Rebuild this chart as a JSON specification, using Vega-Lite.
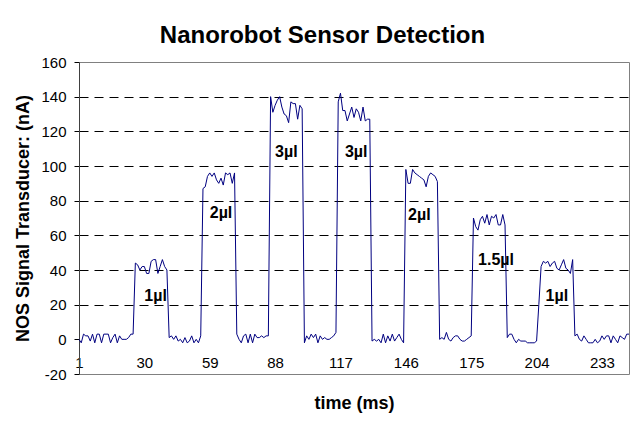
{
 "$schema": "https://vega.github.io/schema/vega-lite/v6.json",
 "width": 550,
 "height": 312,
 "autosize": {"type": "none"},
 "padding": {"left": 79, "top": 62, "right": 5, "bottom": 47},
 "background": "white",
 "title": {"text": "Nanorobot Sensor Detection", "font": "Liberation Sans", "fontSize": 24, "fontWeight": "bold", "color": "black", "frame": "bounds", "anchor": "middle", "offset": 7},
 "config": {"view": {"stroke": "#808080", "strokeWidth": 1}, "font": "Liberation Sans"},
 "datasets": {
  "signal": [
   {"t":1,"v":0},{"t":2,"v":-2},{"t":3,"v":3},{"t":4,"v":2},{"t":5,"v":2},{"t":6,"v":-1},{"t":7,"v":3},{"t":8,"v":-2},{"t":9,"v":3},{"t":10,"v":3},
   {"t":11,"v":-2},{"t":12,"v":3},{"t":13,"v":3},{"t":14,"v":3},{"t":15,"v":-2},{"t":16,"v":1},{"t":17,"v":3},{"t":18,"v":-2},{"t":19,"v":2},{"t":20,"v":0},
   {"t":21,"v":0},{"t":22,"v":0},{"t":23,"v":1},{"t":24,"v":3},{"t":25,"v":3},
   {"t":26,"v":44},{"t":27,"v":43},{"t":28,"v":40},{"t":29,"v":42},{"t":30,"v":42},{"t":31,"v":38},{"t":32,"v":38},{"t":33,"v":45},{"t":34,"v":46},{"t":35,"v":46},
   {"t":36,"v":38},{"t":37,"v":42},{"t":38,"v":46},{"t":39,"v":42},{"t":40,"v":40},
   {"t":41,"v":1},{"t":42,"v":2},{"t":43,"v":0},{"t":44,"v":2},{"t":45,"v":-1},{"t":46,"v":0},{"t":47,"v":-2},{"t":48,"v":1},{"t":49,"v":-2},{"t":50,"v":-1},
   {"t":51,"v":2},{"t":52,"v":-2},{"t":53,"v":0},{"t":54,"v":-2},{"t":55,"v":2},
   {"t":56,"v":87},{"t":57,"v":88},{"t":58,"v":94},{"t":59,"v":96},{"t":60,"v":94},{"t":61,"v":96},{"t":62,"v":92},{"t":63,"v":90},{"t":64,"v":93},{"t":65,"v":89},
   {"t":66,"v":96},{"t":67,"v":95},{"t":68,"v":96},{"t":69,"v":90},{"t":70,"v":96},
   {"t":71,"v":3},{"t":72,"v":0},{"t":73,"v":-2},{"t":74,"v":2},{"t":75,"v":3},{"t":76,"v":-2},{"t":77,"v":3},{"t":78,"v":-2},{"t":79,"v":3},{"t":80,"v":1},
   {"t":81,"v":1},{"t":82,"v":2},{"t":83,"v":1},{"t":84,"v":2},{"t":85,"v":2},
   {"t":86,"v":140},{"t":87,"v":131},{"t":88,"v":135},{"t":89,"v":138},{"t":90,"v":140},{"t":91,"v":134},{"t":92,"v":130},{"t":93,"v":129},{"t":94,"v":125},{"t":95,"v":137},
   {"t":96,"v":136},{"t":97,"v":136},{"t":98,"v":127},{"t":99,"v":135},{"t":100,"v":133},
   {"t":101,"v":-2},{"t":102,"v":2},{"t":103,"v":0},{"t":104,"v":3},{"t":105,"v":1},{"t":106,"v":3},{"t":107,"v":-2},{"t":108,"v":2},{"t":109,"v":0},{"t":110,"v":1},
   {"t":111,"v":0},{"t":112,"v":0},{"t":113,"v":1},{"t":114,"v":2},{"t":115,"v":4},
   {"t":116,"v":137},{"t":117,"v":142},{"t":118,"v":132},{"t":119,"v":132},{"t":120,"v":126},{"t":121,"v":130},{"t":122,"v":134},{"t":123,"v":128},{"t":124,"v":133},{"t":125,"v":131},
   {"t":126,"v":126},{"t":127,"v":134},{"t":128,"v":126},{"t":129,"v":127},{"t":130,"v":127},
   {"t":131,"v":-1},{"t":132,"v":0},{"t":133,"v":-1},{"t":134,"v":0},{"t":135,"v":-2},{"t":136,"v":3},{"t":137,"v":-2},{"t":138,"v":2},{"t":139,"v":-1},{"t":140,"v":3},
   {"t":141,"v":-1},{"t":142,"v":1},{"t":143,"v":3},{"t":144,"v":0},{"t":145,"v":-2},
   {"t":146,"v":98},{"t":147,"v":90},{"t":148,"v":90},{"t":149,"v":98},{"t":150,"v":96},{"t":151,"v":95},{"t":152,"v":94},{"t":153,"v":93},{"t":154,"v":92},{"t":155,"v":88},
   {"t":156,"v":94},{"t":157,"v":96},{"t":158,"v":95},{"t":159,"v":94},{"t":160,"v":91},
   {"t":161,"v":0},{"t":162,"v":1},{"t":163,"v":0},{"t":164,"v":4},{"t":165,"v":0},{"t":166,"v":-1},{"t":167,"v":1},{"t":168,"v":2},{"t":169,"v":2},{"t":170,"v":0},
   {"t":171,"v":-1},{"t":172,"v":-1},{"t":173,"v":0},{"t":174,"v":1},{"t":175,"v":2},
   {"t":176,"v":70},{"t":177,"v":65},{"t":178,"v":63},{"t":179,"v":69},{"t":180,"v":71},{"t":181,"v":67},{"t":182,"v":72},{"t":183,"v":66},{"t":184,"v":71},{"t":185,"v":70},
   {"t":186,"v":72},{"t":187,"v":66},{"t":188,"v":66},{"t":189,"v":72},{"t":190,"v":66},
   {"t":191,"v":1},{"t":192,"v":3},{"t":193,"v":3},{"t":194,"v":0},{"t":195,"v":-2},{"t":196,"v":0},{"t":197,"v":-1},{"t":198,"v":-1},{"t":199,"v":-1},{"t":200,"v":-2},
   {"t":201,"v":-2},{"t":202,"v":-2},{"t":203,"v":-2},{"t":204,"v":-1},{"t":205,"v":20},
   {"t":206,"v":42},{"t":207,"v":45},{"t":208,"v":44},{"t":209,"v":45},{"t":210,"v":42},{"t":211,"v":44},{"t":212,"v":45},{"t":213,"v":41},{"t":214,"v":40},{"t":215,"v":43},
   {"t":216,"v":46},{"t":217,"v":41},{"t":218,"v":40},{"t":219,"v":38},{"t":220,"v":46},
   {"t":221,"v":2},{"t":222,"v":3},{"t":223,"v":0},{"t":224,"v":-1},{"t":225,"v":2},{"t":226,"v":0},{"t":227,"v":-2},{"t":228,"v":-2},{"t":229,"v":-2},{"t":230,"v":0},
   {"t":231,"v":-2},{"t":232,"v":-1},{"t":233,"v":2},{"t":234,"v":0},{"t":235,"v":2},{"t":236,"v":2},{"t":237,"v":-2},{"t":238,"v":2},{"t":239,"v":0},{"t":240,"v":-2},
   {"t":241,"v":2},{"t":242,"v":1},{"t":243,"v":0},{"t":244,"v":3},{"t":245,"v":3}
  ],
  "labels": [
   {"t":35,"v":25,"label":"1µl"},
   {"t":64,"v":73,"label":"2µl"},
   {"t":93,"v":108,"label":"3µl"},
   {"t":124,"v":108,"label":"3µl"},
   {"t":152,"v":72,"label":"2µl"},
   {"t":186,"v":46,"label":"1.5µl"},
   {"t":213,"v":25,"label":"1µl"}
  ]
 },
 "layer": [
  {
   "data": {"name": "signal"},
   "mark": {"type": "line", "color": "#000080", "strokeWidth": 1},
   "encoding": {
    "x": {"field": "t", "type": "quantitative",
     "scale": {"domain": [1, 245], "nice": false, "zero": false},
     "axis": {"title": "time (ms)", "values": [1,30,59,88,117,146,175,204,233], "tickCount": 20, "grid": false, "ticks": false, "domain": false,
      "labelFontSize": 15, "labelColor": "black", "labelPadding": -19, "labelFlush": false, "labelOverlap": false, "labelFont": "Liberation Sans",
      "titleFontSize": 18, "titleFontWeight": "bold", "titleColor": "black", "titleFont": "Liberation Sans", "titleY": 29, "titleBaseline": "middle"}},
    "y": {"field": "v", "type": "quantitative",
     "scale": {"domain": [-20, 160], "nice": false},
     "axis": {"title": "NOS Signal Transducer: (nA)", "values": [-20,0,20,40,60,80,100,120,140,160], "tickCount": 20,
      "labelExpr": "'' + datum.value", "labelOverlap": false,
      "grid": true, "gridColor": {"condition": {"test": "datum.value <= 0 || datum.value >= 160", "value": "transparent"}, "value": "black"},
      "gridDash": [9, 6], "gridWidth": 1,
      "domainColor": "#404040", "tickColor": "black", "tickSize": 5,
      "labelFontSize": 15, "labelColor": "black", "labelPadding": 8, "labelFont": "Liberation Sans",
      "titleFontSize": 18, "titleFontWeight": "bold", "titleColor": "black", "titleFont": "Liberation Sans", "titleX": -56, "titleY": 156, "titleBaseline": "middle", "titleAlign": "center"}}
   }
  },
  {
   "data": {"name": "labels"},
   "mark": {"type": "text", "fontWeight": "bold", "fontSize": 16, "font": "Liberation Sans", "color": "black", "align": "center", "baseline": "middle"},
   "encoding": {
    "x": {"field": "t", "type": "quantitative"},
    "y": {"field": "v", "type": "quantitative"},
    "text": {"field": "label"}
   }
  }
 ]
}
